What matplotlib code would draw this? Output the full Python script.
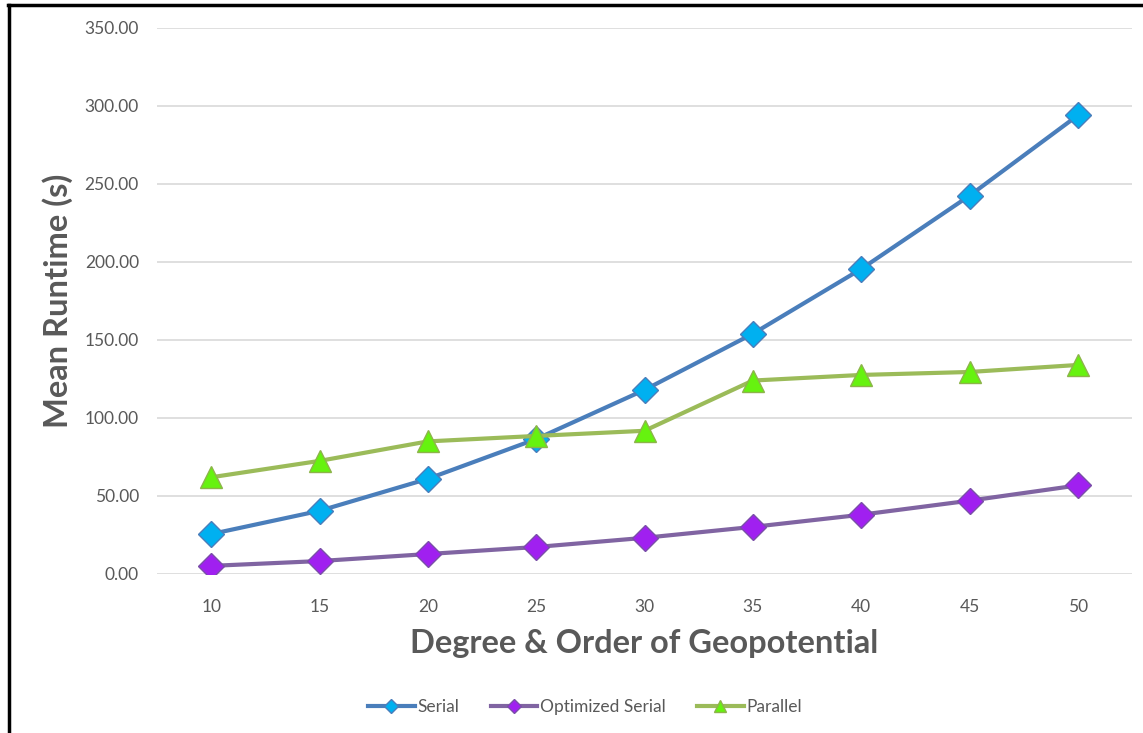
import numpy as np
import matplotlib.pyplot as plt
from matplotlib.lines import Line2D

plt.rcParams['font.family'] = ['Lato', 'DejaVu Sans']

# mean runtimes per degree/order
degree = [10, 15, 20, 25, 30, 35, 40, 45, 50]
serial = [25.6, 40.5, 61.0, 86.5, 118.0, 154.0, 195.5, 242.5, 294.0]
opt_serial = [5.2, 8.3, 12.8, 17.3, 23.2, 30.2, 38.0, 47.0, 56.8]
parallel = [62.0, 72.5, 85.0, 88.5, 91.8, 124.0, 127.6, 129.5, 134.0]

fig = plt.figure(figsize=(11.43, 7.33), dpi=100)
ax = fig.add_axes([157/1143, 1-574/733, 975/1143, 546/733])

ax.plot(degree, serial, color='#4A7EBB', lw=3, marker='D', ms=13,
        mfc='#00B0F0', mec='#4A7EBB', mew=1, label='Serial', zorder=3)
ax.plot(degree, opt_serial, color='#8064A2', lw=3, marker='D', ms=13,
        mfc='#A020F0', mec='#7A4FA8', mew=1, label='Optimized Serial', zorder=3)
ax.plot(degree, parallel, color='#9BBB59', lw=3, marker='^', ms=16,
        mfc='#66F20F', mec='#8DB44A', mew=1, label='Parallel', zorder=3)

ax.set_xlim(7.5, 52.5)
ax.set_ylim(0, 350)
ax.set_xticks(degree)
ax.set_yticks(np.arange(0, 351, 50))
ax.set_yticklabels([f'{v:.2f}' for v in np.arange(0, 351, 50)])
ax.tick_params(length=0, labelsize=12.5, labelcolor='#595959', pad=13)
ax.tick_params(axis='x', pad=18)
ax.grid(axis='y', color='#D9D9D9', lw=1.2)
ax.set_axisbelow(True)
for s in ax.spines.values():
    s.set_visible(False)

ax.set_xlabel('Degree & Order of Geopotential', fontsize=23.5, fontweight='bold',
              color='#595959', labelpad=10)
ax.set_ylabel('Mean Runtime (s)', fontsize=23.5, fontweight='bold',
              color='#595959', labelpad=8)

handles = [
    Line2D([], [], color='#4A7EBB', lw=3, marker='D', ms=7, mfc='#00B0F0', mec='#4A7EBB'),
    Line2D([], [], color='#8064A2', lw=3, marker='D', ms=7, mfc='#A020F0', mec='#7A4FA8'),
    Line2D([], [], color='#9BBB59', lw=3, marker='^', ms=8, mfc='#66F20F', mec='#8DB44A'),
]
fig.legend(handles, ['Serial', 'Optimized Serial', 'Parallel'], loc='center',
           bbox_to_anchor=(585/1143, 1-707/733), ncol=3, frameon=False,
           fontsize=12.5, labelcolor='#595959', handlelength=2.7,
           handletextpad=0.15, columnspacing=1.8)

# frame lines along the top and left edge
fig.add_artist(Line2D([8/1143, 1], [1-5/733, 1-5/733], color='black', lw=2.5))
fig.add_artist(Line2D([9/1143, 9/1143], [0, 1-5/733], color='black', lw=2.5))

fig.savefig('out.png', dpi=100, facecolor='white')
